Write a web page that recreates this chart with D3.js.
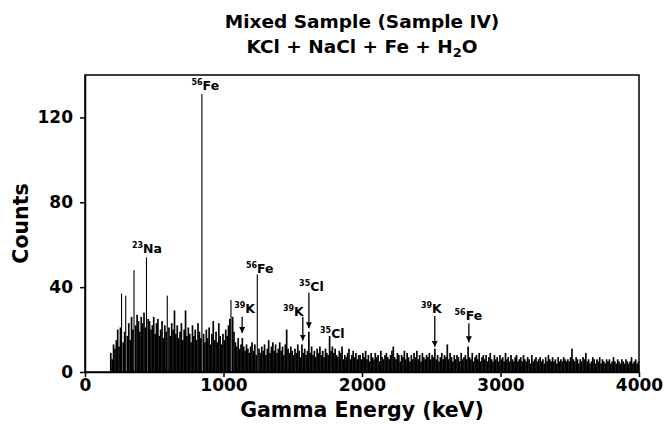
<!DOCTYPE html>
<html>
<head>
<meta charset="utf-8">
<script src="https://cdn.jsdelivr.net/npm/d3@7"></script>
<style>
  body { margin: 0; background: #fff; }
  text { font-family: "DejaVu Sans", Verdana, sans-serif; font-weight: bold; fill: #000; }
</style>
</head>
<body>
<div id="chart"></div>
<script>
// Spectrum counts, 10 keV bins starting at 180 keV
const binStart = 180, binStep = 10;
const spectrum = [
  9, 6, 13, 11, 15, 20, 12, 21, 37, 14,
  19, 36, 17, 23, 15, 26, 20, 48, 22, 27,
  24, 19, 26, 23, 28, 21, 54, 25, 24, 20,
  22, 26, 18, 23, 25, 17, 20, 24, 16, 22,
  19, 36, 21, 17, 23, 20, 29, 18, 22, 16,
  19, 23, 15, 20, 29, 17, 21, 18, 14, 22,
  17, 20, 15, 23, 19, 16, 131, 18, 14, 20,
  16, 21, 13, 18, 24, 15, 19, 14, 23, 17,
  13, 18, 15, 20, 17, 22, 25, 34, 26, 19,
  14, 12, 16, 11, 13, 16, 12, 10, 13, 11,
  9, 12, 14, 10, 13, 8, 46, 11, 9, 12,
  10, 13, 8, 11, 15, 9, 12, 14, 10, 13,
  9, 11, 14, 10, 12, 8, 13, 20, 11, 9,
  12, 10, 8, 11, 9, 13, 10, 7, 13, 9,
  11, 8, 10, 19, 9, 12, 8, 10, 7, 11,
  9, 12, 8, 10, 7, 11, 9, 8, 17, 10,
  12, 9, 11, 8, 7, 10, 9, 12, 6, 8,
  7, 9, 11, 6, 8, 10, 7, 9, 6, 8,
  8, 6, 9, 7, 10, 6, 8, 5, 9, 7,
  6, 9, 7, 8, 5, 10, 7, 6, 8, 9,
  7, 6, 8, 10, 12, 7, 6, 9, 8, 5,
  8, 7, 10, 6, 9, 7, 5, 8, 6, 9,
  7, 10, 6, 8, 5, 9, 7, 6, 8, 7,
  9, 6, 8, 7, 11, 6, 8, 5, 7, 9,
  6, 8, 7, 13, 6, 9, 7, 5, 8, 6,
  8, 7, 5, 9, 6, 7, 8, 6, 12, 7,
  6, 9, 5, 7, 8, 6, 9, 5, 7, 8,
  6, 8, 5, 7, 9, 6, 5, 8, 6, 7,
  5, 8, 6, 7, 5, 9, 6, 7, 5, 8,
  6, 5, 7, 8, 5, 6, 7, 5, 8, 6,
  5, 7, 6, 4, 8, 5, 6, 7, 5, 6,
  7, 5, 6, 4, 7, 5, 8, 6, 5, 7,
  5, 6, 4, 7, 5, 6, 5, 7, 6, 5,
  6, 5, 7, 11, 6, 5, 7, 6, 4, 6,
  5, 7, 6, 9, 5, 6, 4, 5, 7, 6,
  4, 6, 5, 7, 4, 6, 5, 4, 6, 5,
  6, 4, 5, 7, 5, 4, 6, 5, 4, 6,
  5, 4, 6, 5, 4, 5, 7, 4, 5, 6,
  4, 5
];
// Axis ticks
const xTicks = [0, 1000, 2000, 3000, 4000];
const yTicks = [0, 40, 80, 120];
// Peak annotations
const annoEnergy = [847, 440, 1240, 1131, 1569, 1613, 1764, 2522, 2768];
const annoMass   = ["56", "23", "56", "39", "39", "35", "35", "39", "56"];
const annoElem   = ["Fe", "Na", "Fe", "K", "K", "Cl", "Cl", "K", "Fe"];
const annoLabel  = [133, 56, 46.5, 27.6, 26.5, 38, 16, 27.7, 24.5];
const arrowFrom  = [null, null, null, 26, 26, 37.5, null, 26.4, 23];
const arrowTo    = [null, null, null, 18.4, 14.8, 20.6, null, 11.9, 14];
const labelShift = [3, 1, 3, 3, -9, 3, 3, -3, 0];

const width = 667, height = 429;
const margin = { top: 75, right: 28, bottom: 57, left: 85 };

const svg = d3.select("#chart").append("svg")
  .attr("width", width).attr("height", height);

const x = d3.scaleLinear().domain([0, 4000]).range([margin.left, width - margin.right]);
const y = d3.scaleLinear().domain([0, 140]).range([height - margin.bottom, margin.top]);

// arrow marker
svg.append("defs").append("marker")
  .attr("id", "arrow")
  .attr("viewBox", "0 0 10 10")
  .attr("refX", 10).attr("refY", 5)
  .attr("markerWidth", 6).attr("markerHeight", 6)
  .attr("markerUnits", "userSpaceOnUse")
  .attr("orient", "auto")
  .append("path").attr("d", "M0,0L10,5L0,10Z").attr("fill", "#000");

// Spectrum bars
const specData = spectrum.map((v, i) => ({ e: binStart + i * binStep, v }));
const bw = x(binStep) - x(0);
svg.append("g").selectAll("rect")
  .data(specData)
  .enter().append("rect")
    .attr("x", d => x(d.e))
    .attr("width", d => d.v > 30 ? 1.1 : bw + 0.3)
    .attr("y", d => y(d.v))
    .attr("height", d => y(0) - y(d.v))
    .attr("fill", "#000");

// Frame
svg.append("rect")
  .attr("x", x(0)).attr("y", y(140))
  .attr("width", x(4000) - x(0)).attr("height", y(0) - y(140))
  .attr("fill", "none").attr("stroke", "#000").attr("stroke-width", 1.5);

// Axes
const yAxis = svg.append("g")
  .attr("transform", `translate(${x(0)},0)`)
  .call(d3.axisLeft(y).tickValues(yTicks).tickSize(5).tickSizeOuter(0).tickPadding(7));
const xAxis = svg.append("g")
  .attr("transform", `translate(0,${y(0)})`)
  .call(d3.axisBottom(x).tickValues(xTicks).tickFormat(d3.format("d")).tickSize(5).tickSizeOuter(0).tickPadding(2));
[xAxis, yAxis].forEach(a => {
  a.selectAll("path, line").attr("stroke", "#000").attr("stroke-width", 1.5);
  a.selectAll("text")
    .style("font-family", "'DejaVu Sans', Verdana, sans-serif")
    .style("font-weight", "bold")
    .style("font-size", "17px")
    .attr("fill", "#000");
});

// Axis titles
svg.append("text")
  .attr("transform", `translate(21,${(y(0) + y(140)) / 2}) rotate(-90)`)
  .attr("text-anchor", "middle")
  .attr("dy", "0.35em")
  .style("font-size", "20.5px")
  .text("Counts");
svg.append("text")
  .attr("x", (x(0) + x(4000)) / 2)
  .attr("y", 417)
  .attr("text-anchor", "middle")
  .style("font-size", "20.5px")
  .text("Gamma Energy (keV)");

// Chart title
const cx = (x(0) + x(4000)) / 2;
svg.append("text")
  .attr("x", cx).attr("y", 28)
  .attr("text-anchor", "middle")
  .style("font-size", "18.5px")
  .text("Mixed Sample (Sample IV)");
const t2 = svg.append("text")
  .attr("x", cx).attr("y", 53)
  .attr("text-anchor", "middle")
  .style("font-size", "18.5px");
t2.append("tspan").text("KCl + NaCl + Fe + H");
t2.append("tspan").attr("dy", 4).style("font-size", "13px").text("2");
t2.append("tspan").attr("dy", -4).text("O");

// Annotations
const annos = annoEnergy.map((e, i) => ({
  e, mass: annoMass[i], elem: annoElem[i], lab: annoLabel[i],
  from: arrowFrom[i], to: arrowTo[i], shift: labelShift[i]
}));
const ag = svg.append("g");
annos.forEach(d => {
  const t = ag.append("text")
    .attr("x", x(d.e) + d.shift)
    .attr("y", y(d.lab))
    .attr("text-anchor", "middle")
    .style("font-size", "12.5px");
  t.append("tspan").attr("dy", -5).style("font-size", "8px").text(d.mass);
  t.append("tspan").attr("dy", 5).text(d.elem);
  if (d.from !== null) {
    ag.append("line")
      .attr("x1", x(d.e) + 0.5).attr("x2", x(d.e) + 0.5)
      .attr("y1", y(d.from)).attr("y2", y(d.to))
      .attr("stroke", "#000").attr("stroke-width", 1.3)
      .attr("marker-end", "url(#arrow)");
  }
});
</script>
</body>
</html>
